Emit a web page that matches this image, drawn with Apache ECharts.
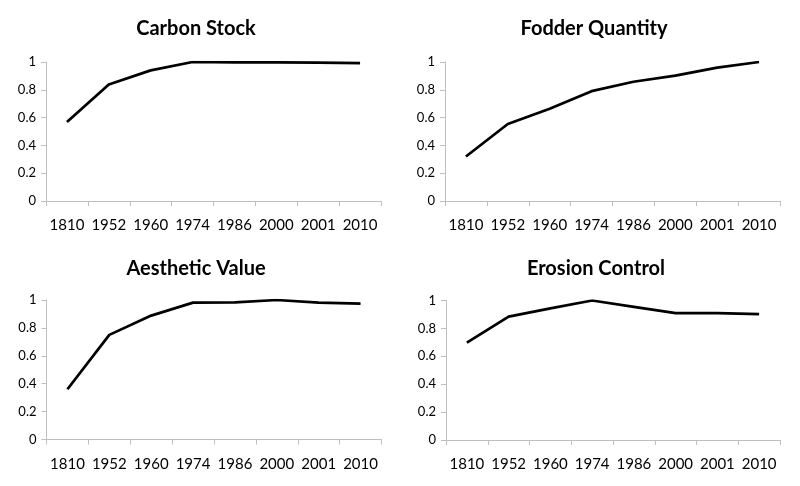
<!DOCTYPE html>
<html>
<head>
<meta charset="utf-8">
<script src="https://cdn.jsdelivr.net/npm/echarts@6/dist/echarts.min.js"></script>
<style>
html,body{margin:0;padding:0;background:#fff;}
#c{width:800px;height:486px;}
</style>
</head>
<body>
<div id="c"></div>
<script>
const years = ['1810','1952','1960','1974','1986','2000','2001','2010'];
const titles = ['Carbon Stock','Fodder Quantity','Aesthetic Value','Erosion Control'];
const carbonStock = [0.568, 0.838, 0.94, 1.0, 0.997, 0.998, 0.995, 0.992];
const fodderQuantity = [0.32, 0.554, 0.664, 0.79, 0.858, 0.902, 0.96, 1.0];
const aestheticValue = [0.36, 0.75, 0.888, 0.981, 0.983, 1.0, 0.981, 0.974];
const erosionControl = [0.698, 0.885, 0.943, 1.0, 0.955, 0.909, 0.909, 0.902];
const yTicks = [0, 0.2, 0.4, 0.6, 0.8, 1];

const seriesData = [carbonStock, fodderQuantity, aestheticValue, erosionControl];
const grids = [
  {left:46, top:62, width:335, height:139},
  {left:445, top:62, width:335, height:139},
  {left:46.5, top:300, width:335, height:139.5},
  {left:446, top:300.5, width:334, height:139.5}
];
const titlePos = [
  {x:191, y:14}, {x:589, y:14}, {x:191, y:254}, {x:591, y:254}
];
const axisColor = '#bfbfbf';
const font = 'Lato, "Open Sans", sans-serif';

const option = {
  animation:false,
  title: titles.map((t,i)=>({
    text:t, left:titlePos[i].x, top:titlePos[i].y, textAlign:'center',
    textStyle:{fontFamily:font, fontWeight:'bold', fontSize:20, color:'#000'}
  })),
  grid: grids.map(g=>Object.assign({containLabel:false}, g)),
  xAxis: grids.map((g,i)=>({
    type:'category', gridIndex:i, data:years, boundaryGap:true,
    axisLine:{lineStyle:{color:axisColor, width:1}},
    axisTick:{show:true, length:5, lineStyle:{color:axisColor}},
    axisLabel:{fontFamily:font, fontSize:15, color:'#000', margin:17, interval:0}
  })),
  yAxis: grids.map((g,i)=>({
    type:'value', gridIndex:i, min:yTicks[0], max:yTicks[yTicks.length-1], interval:0.2,
    axisLine:{show:true, lineStyle:{color:axisColor, width:1}},
    axisTick:{show:true, length:5, lineStyle:{color:axisColor}},
    splitLine:{show:false},
    axisLabel:{fontFamily:font, fontSize:13, color:'#000', margin:10}
  })),
  series: seriesData.map((d,i)=>({
    type:'line', xAxisIndex:i, yAxisIndex:i, data:d,
    showSymbol:false, symbol:'none',
    lineStyle:{color:'#000', width:2.75},
    itemStyle:{color:'#000'}
  }))
};
const chart = echarts.init(document.getElementById('c'), null, {renderer:'canvas'});
chart.setOption(option);
</script>
</body>
</html>
